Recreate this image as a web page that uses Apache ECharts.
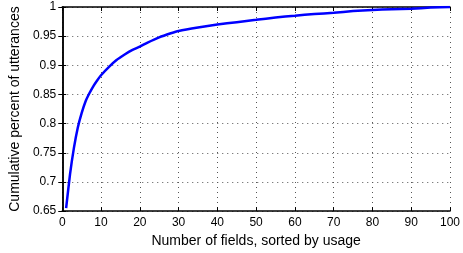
<!DOCTYPE html>
<html>
<head>
<meta charset="utf-8">
<script src="https://cdn.jsdelivr.net/npm/echarts@6/dist/echarts.min.js"></script>
<style>html,body{margin:0;padding:0;background:#fff;}#c{width:463px;height:253px;}</style>
</head>
<body>
<div id="c"></div>
<script>
const fieldCounts = [1, 2, 3, 4, 5, 6, 7, 8, 9, 10, 12, 14, 16, 18, 20, 22, 25, 28, 30, 35, 40, 45, 50, 55, 60, 65, 70, 75, 80, 85, 90, 95, 100];
const cumulative = [0.655, 0.713, 0.758, 0.793, 0.818, 0.838, 0.852, 0.864, 0.874, 0.883, 0.897, 0.909, 0.918, 0.926, 0.932, 0.939, 0.948, 0.955, 0.959, 0.965, 0.970, 0.974, 0.978, 0.982, 0.985, 0.988, 0.990, 0.993, 0.995, 0.996, 0.997, 0.999, 1.0];
const xTicks = [0, 10, 20, 30, 40, 50, 60, 70, 80, 90, 100];
const yTicks = ['0.65', '0.7', '0.75', '0.8', '0.85', '0.9', '0.95', '1'];

const font = 'Liberation Sans, Arial, sans-serif';
const chart = echarts.init(document.getElementById('c'), null, {renderer: 'canvas'});
const axisLine = {show: true, lineStyle: {color: '#000', width: 1.5}};
const tick = {show: true, inside: true, length: 4, lineStyle: {color: '#000', width: 1}};
const grid = {show: true, lineStyle: {type: [1, 4], color: '#555', width: 1}};
chart.setOption({
  animation: false,
  grid: {left: 54, right: 7, top: 7, bottom: 41, containLabel: false},
  xAxis: [{
    type: 'value', min: 0, max: 100, interval: 10,
    name: 'Number of fields, sorted by usage', nameLocation: 'middle', nameGap: 22,
    nameTextStyle: {fontFamily: font, fontSize: 14, color: '#000'},
    axisLine: axisLine, axisTick: tick, splitLine: grid,
    axisLabel: {fontFamily: font, fontSize: 12, color: '#000', margin: 6, formatter: v => xTicks.includes(v) ? String(v) : ''}
  }, {
    type: 'value', position: 'top', min: 0, max: 100, interval: 10,
    axisLine: axisLine, axisTick: tick, splitLine: {show: false}, axisLabel: {show: false}
  }],
  yAxis: [{
    type: 'value', min: 0.65, max: 1, interval: 0.05,
    name: 'Cumulative percent of utterances', nameLocation: 'middle', nameGap: 40,
    nameTextStyle: {fontFamily: font, fontSize: 14, color: '#000'},
    axisLine: axisLine, axisTick: tick, splitLine: grid,
    axisLabel: {fontFamily: font, fontSize: 12, color: '#000', margin: 6,
      formatter: v => { const s = String(Math.round(v * 100) / 100); return yTicks.includes(s) ? s : ''; }}
  }, {
    type: 'value', position: 'right', min: 0.65, max: 1, interval: 0.05,
    axisLine: axisLine, axisTick: tick, splitLine: {show: false}, axisLabel: {show: false}
  }],
  series: [{
    type: 'line', xAxisIndex: 0, yAxisIndex: 0,
    data: fieldCounts.map((x, i) => [x, cumulative[i]]),
    showSymbol: false, smooth: 0.2,
    lineStyle: {color: '#0000ff', width: 2.5}
  }]
});
</script>
</body>
</html>
